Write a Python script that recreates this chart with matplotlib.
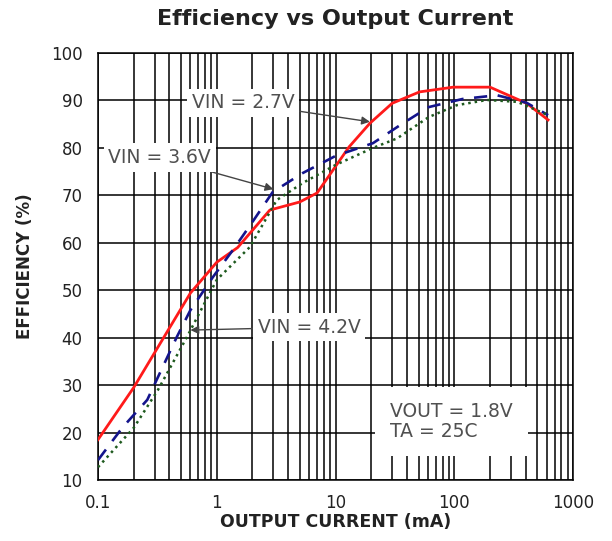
import numpy as np
import matplotlib
matplotlib.use('Agg')
import matplotlib.pyplot as plt
from matplotlib.ticker import FixedLocator, NullFormatter

plt.rcParams['font.family'] = ['DejaVu Sans']

# Dati (corrente in mA, efficienza in %)
i_27 = [0.1, 0.2, 0.39, 0.6, 1.0, 1.5, 2.8, 5.0, 7.0, 13, 19.5, 30, 51, 98, 200, 407, 617]
eff_27 = [18.5, 29.5, 41.6, 49.4, 55.9, 59.0, 66.9, 68.6, 70.5, 80.2, 85.2, 89.4, 91.8, 92.8, 92.8, 89.4, 85.9]

i_36 = [0.1, 0.16, 0.26, 0.46, 0.6, 0.93, 1.37, 2.0, 2.96, 5.3, 10, 20.7, 35, 61, 117, 229, 407, 617]
eff_36 = [14.2, 21.0, 26.9, 40.1, 45.8, 52.8, 58.5, 64.4, 70.7, 74.7, 78.3, 81.0, 84.8, 88.6, 90.3, 91.1, 89.5, 86.9]

i_42 = [0.1, 0.2, 0.32, 0.56, 1.0, 1.9, 3.2, 5.3, 10, 20.7, 33, 61, 105, 189, 340, 617]
eff_42 = [12.7, 21.0, 29.0, 40.1, 52.2, 59.1, 69.0, 72.6, 76.4, 80.0, 82.0, 86.5, 89.0, 90.1, 89.7, 86.9]

x_ticks = [0.1, 1, 10, 100, 1000]
x_labels = ['0.1', '1', '10', '100', '1000']
y_ticks = list(range(10, 101, 10))

fig = plt.figure(figsize=(6.12, 5.41), dpi=100)
ax = fig.add_axes([98 / 612, 1 - 480 / 541, 475 / 612, 427 / 541])

ax.set_xscale('log')
ax.set_xlim(0.1, 1000)
ax.set_ylim(10, 100)

# griglia nera, maggiore e minore sull'asse x
minor_x = [m * 10.0 ** d for d in range(-1, 3) for m in range(2, 10)]
ax.xaxis.set_major_locator(FixedLocator(x_ticks))
ax.xaxis.set_minor_locator(FixedLocator(minor_x))
ax.xaxis.set_minor_formatter(NullFormatter())
ax.set_xticks(x_ticks)
ax.set_xticklabels(x_labels)
ax.set_yticks(y_ticks)
ax.grid(True, which='major', color='black', lw=1.1, zorder=1)
ax.grid(True, which='minor', axis='x', color='black', lw=1.1, zorder=1)
ax.tick_params(which='both', length=0, labelsize=12, colors='#222222')
ax.tick_params(axis='x', pad=10)
ax.tick_params(axis='y', pad=11)
for s in ax.spines.values():
    s.set_color('black')
    s.set_linewidth(1.1)

# curve
ax.plot(i_27, eff_27, color='#ff1a1a', lw=2.0, zorder=4)
ax.plot(i_36, eff_36, color='#14148c', lw=1.9, ls=(0, (5, 4)), zorder=4)
ax.plot(i_42, eff_42, color='#1e5a1e', lw=1.8, ls=(0, (1, 1.6)), zorder=4)

box = dict(boxstyle='square,pad=0.25', fc='white', ec='none')
arrow = dict(arrowstyle='-|>', color='#444444', lw=1.0, mutation_scale=12, shrinkA=0, shrinkB=0)
txt_kw = dict(fontsize=13.5, color='#505050', ha='center', va='center', bbox=box, zorder=3)

ax.annotate('VIN = 2.7V', xy=(19.5, 85.5), xytext=(1.66, 89.5), arrowprops=arrow, **txt_kw)
ax.annotate('VIN = 3.6V', xy=(3.0, 71.3), xytext=(0.33, 78.0), arrowprops=arrow, **txt_kw)
ax.annotate('VIN = 4.2V', xy=(0.6, 41.6), xytext=(6.0, 42.2), arrowprops=arrow, **txt_kw)

ax.text(28.8, 22.3, 'VOUT = 1.8V\nTA = 25C', fontsize=13.5, color='#505050', ha='left', va='center',
        linespacing=1.1, bbox=dict(boxstyle='square,pad=0.8', fc='white', ec='none'), zorder=3)

ax.set_title('Efficiency vs Output Current', fontsize=16, fontweight='bold', color='#222222', pad=20)
ax.set_xlabel('OUTPUT CURRENT (mA)', fontsize=12.5, fontweight='bold', color='#222222', labelpad=1)
ax.set_ylabel('EFFICIENCY (%)', fontsize=12, fontweight='bold', color='#222222', labelpad=12)

fig.savefig('out.png', dpi=100)
